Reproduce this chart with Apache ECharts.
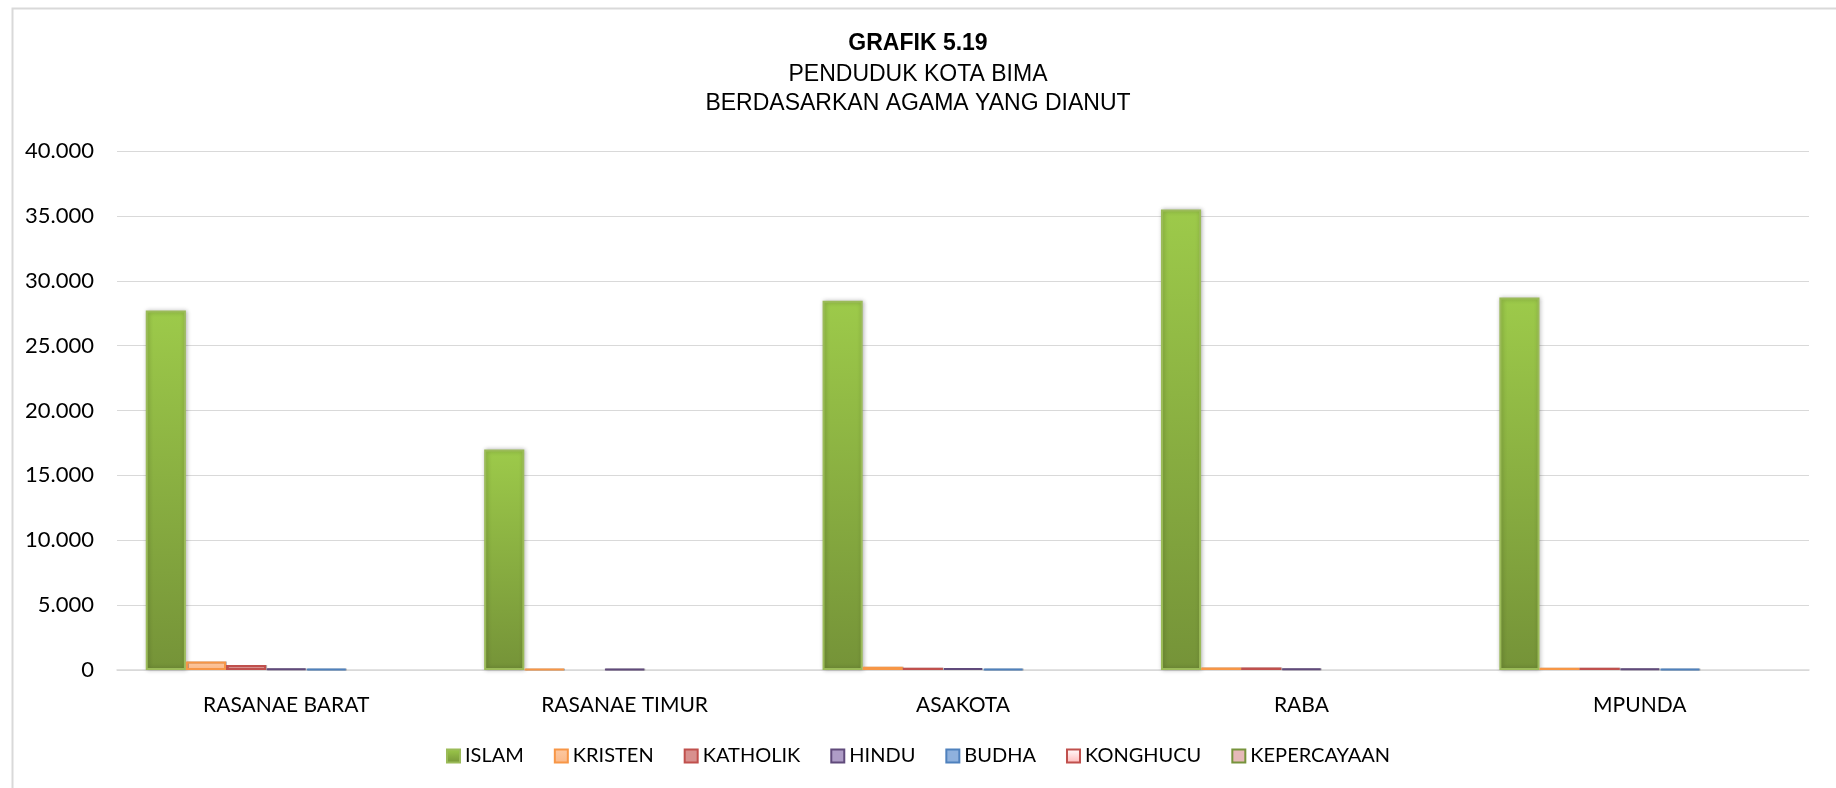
<!DOCTYPE html>
<html>
<head>
<meta charset="utf-8">
<script src="https://cdn.jsdelivr.net/npm/echarts@6/dist/echarts.min.js"></script>
<style>
html,body{margin:0;padding:0;background:#fff;}
#c{width:1836px;height:788px;}
</style>
</head>
<body>
<div id="c"></div>
<script>
const categories = ['RASANAE BARAT', 'RASANAE TIMUR', 'ASAKOTA', 'RABA', 'MPUNDA'];
const seriesNames = ['ISLAM', 'KRISTEN', 'KATHOLIK', 'HINDU', 'BUDHA', 'KONGHUCU', 'KEPERCAYAAN'];
const islam = [27700, 17000, 28450, 35500, 28700];
const kristen = [660, 60, 250, 200, 180];
const katholik = [385, 0, 180, 200, 180];
const hindu = [100, 60, 150, 120, 110];
const budha = [90, 0, 90, 0, 90];
const konghucu = [0, 0, 0, 0, 0];
const kepercayaan = [0, 0, 0, 0, 0];
const yTicks = [0, 5000, 10000, 15000, 20000, 25000, 30000, 35000, 40000];

const values = [islam, kristen, katholik, hindu, budha, konghucu, kepercayaan];
const fills = [
  {type:'linear',x:0,y:0,x2:0,y2:1,colorStops:[{offset:0,color:'#9DCA4A'},{offset:1,color:'#759338'}]},
  {type:'linear',x:0,y:0,x2:0,y2:1,colorStops:[{offset:0,color:'#FCC9A2'},{offset:1,color:'#FBB887'}]},
  '#D8908E', '#AE9CC6', '#8FB1DD',
  {type:'linear',x:0,y:0,x2:0,y2:1,colorStops:[{offset:0,color:'#FFFFFF'},{offset:1,color:'#FFB8B8'}]},
  '#E6B9B8'
];
const borders = ['#9BBB59', '#F79646', '#C0504D', '#604A7B', '#4F81BD', '#C0504D', '#77933C'];

const chart = echarts.init(document.getElementById('c'));
const fmt = v => String(v).replace(/\B(?=(\d{3})+(?!\d))/g, '.');
const titleFont = '"Liberation Sans", Arial, sans-serif';
const labelFont = 'Lato, "Open Sans", sans-serif';

chart.setOption({
  animation: false,
  backgroundColor: '#fff',
  graphic: [{
    type: 'rect', left: 10, top: 6, silent: true, z: -1,
    shape: {width: 1900, height: 900},
    style: {fill: 'none', stroke: '#D9D9D9', lineWidth: 2}
  }, {
    type: 'group', left: 'center', top: 32,
    children: [
      {type:'text', left:'center', top:0, style:{text:'GRAFIK 5.19', font:'bold 23px ' + titleFont, fill:'#000', textAlign:'center'}},
      {type:'text', left:'center', top:31, style:{text:'PENDUDUK KOTA BIMA', font:'23px ' + titleFont, fill:'#000', textAlign:'center'}},
      {type:'text', left:'center', top:60, style:{text:'BERDASARKAN AGAMA YANG DIANUT', font:'23px ' + titleFont, fill:'#000', textAlign:'center'}}
    ]
  }],
  grid: {left: 117, right: 27, top: 151, bottom: 118, containLabel: false},
  legend: {
    data: seriesNames,
    left: 'center',
    top: 741,
    itemWidth: 13,
    itemHeight: 13,
    itemGap: 30,
    textStyle: {fontFamily: labelFont, fontSize: 20, color: '#000', padding: [0,0,0,0]},
    icon: 'rect'
  },
  xAxis: {
    type: 'category',
    data: categories,
    axisLine: {lineStyle: {color: '#D9D9D9', width: 1.5}},
    axisTick: {show: false},
    axisLabel: {fontFamily: labelFont, fontSize: 21, color: '#000', margin: 25}
  },
  yAxis: {
    type: 'value',
    min: 0, max: 40000, interval: 5000,
    axisLine: {show: false},
    axisTick: {show: false},
    splitLine: {lineStyle: {color: '#D9D9D9', width: 1.2}},
    axisLabel: {
      fontFamily: labelFont, fontSize: 22, color: '#000', margin: 23,
      formatter: v => yTicks.includes(v) ? fmt(v) : ''
    }
  },
  series: seriesNames.map((name, i) => ({
    name: name,
    type: 'bar',
    data: values[i].map(v => v === 0 ? '-' : v),
    barGap: '0%',
    barCategoryGap: '17%',
    itemStyle: {
      color: fills[i],
      borderColor: borders[i],
      borderWidth: 2,
      shadowBlur: i === 0 ? 4 : 0,
      shadowColor: 'rgba(0,0,0,0.25)',
      shadowOffsetX: 1
    }
  }))
});
</script>
</body>
</html>
